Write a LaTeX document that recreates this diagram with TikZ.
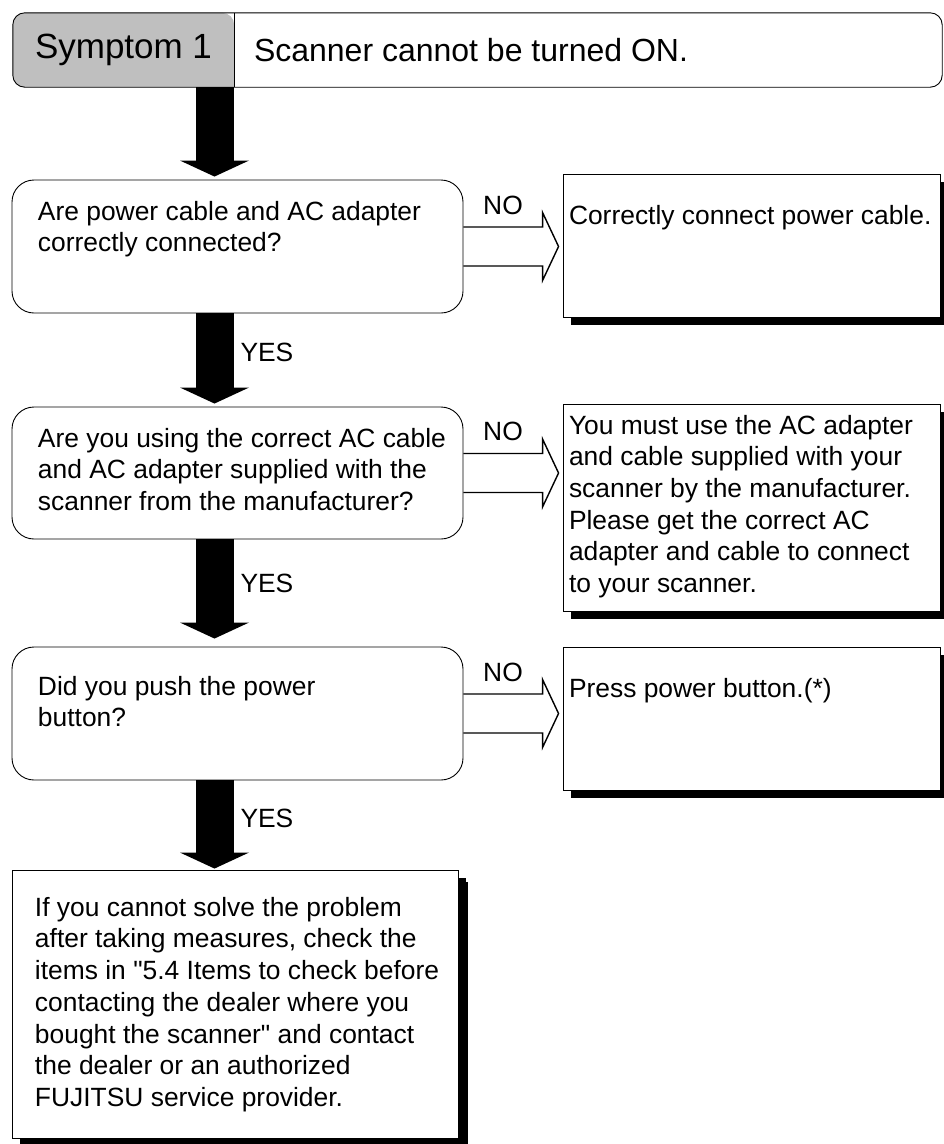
\documentclass[tikz,border=0pt]{standalone}
\usepackage{fontspec}
\setmainfont{Liberation Sans}
\usepackage{tikz}
\usetikzlibrary{arrows.meta, calc, backgrounds}

% width, height, left inset, top skip, text
\newcommand{\cardtext}[5]{\hspace*{#3pt}\parbox[c][#2pt][t]{\dimexpr #1pt-#3pt\relax}{\raggedright\vspace*{#4pt}\strut #5}}

\tikzset{
  body/.style={font=\fontsize{26.4}{31.7}\selectfont},
  query/.style={body, draw, line width=0.9pt, rounded corners=22pt, inner sep=0pt},
  answer/.style={body, draw, line width=0.9pt, fill=white, inner sep=0pt,
    preaction={fill=black, transform canvas={shift={(8pt,-8pt)}}}},
  bigarrow/.style={line width=38pt, -{Triangle[width=69pt, length=16pt, line width=0pt]}},
  openarrow/.style={line width=1.4pt, line join=miter},
  yes/.style={body, inner sep=0pt, outer sep=0pt, anchor=west, xshift=26pt, yshift=6pt},
  nolabel/.style={body, inner sep=0pt, outer sep=0pt, yshift=22pt}
}

\begin{document}
\begin{tikzpicture}[x=1pt, y=-1pt]
\useasboundingbox (0,0) rectangle (944,1144);

% header
\node[inner sep=0pt, minimum width=221pt, minimum height=74pt, font=\fontsize{35}{42}\selectfont] (sym) at (123.5,50) {\raisebox{-3pt}{Symptom 1}};
\node[inner sep=0pt, minimum height=74pt, font=\fontsize{32}{38}\selectfont] (title) at (588,50) {\makebox[708pt][l]{\hspace*{20pt}Scanner cannot be turned ON.}};
\begin{scope}[on background layer]
\fill[black!25, rounded corners=12pt] (sym.south east) -- (sym.south west) -- (sym.north west) -- (sym.north east) [sharp corners] -- cycle;
\end{scope}
\draw[line width=0.9pt, rounded corners=12pt] (sym.north west) rectangle (title.south east);
\draw[line width=0.9pt] (sym.north east) -- (sym.south east);

% questions
\node[query] (q1) at (237.5,246.5) {\cardtext{451}{133}{26}{18}{Are power cable and AC adapter\\correctly connected?}};
\node[query] (q2) at (237.5,473) {\cardtext{451}{132}{26}{18}{Are you using the correct AC cable\\and AC adapter supplied with the\\scanner from the manufacturer?}};
\node[query] (q3) at (237.5,713.5) {\cardtext{451}{133}{26}{26}{Did you push the power\\button?}};

% answers
\node[answer] (r1) at (751.5,245.5) {\cardtext{377}{143}{6}{28}{Correctly connect power cable.}};
\node[answer] (r2) at (751.5,507.5) {\cardtext{377}{207}{6}{8}{You must use the AC adapter\\and cable supplied with your\\scanner by the manufacturer.\\Please get the correct AC\\adapter and cable to connect\\to your scanner.}};
\node[answer] (r3) at (751.5,718.5) {\cardtext{377}{143}{6}{28}{Press power button.(*)}};
\node[answer, preaction={fill=black, transform canvas={shift={(10pt,-12pt)}}}] (fin) at (235,1004) {\cardtext{446}{268}{23}{24}{If you cannot solve the problem\\after taking measures, check the\\items in \textquotedbl 5.4 Items to check before\\contacting the dealer where you\\bought the scanner\textquotedbl{} and contact\\the dealer or an authorized\\FUJITSU service provider.}};

% YES path
\coordinate (spine) at (214.5,0);
\draw[bigarrow] (sym.south -| spine) -- ($(q1.north -| spine)+(0,3pt)$);
\draw[bigarrow] (q1.south -| spine) -- node[yes] (yes1) {YES} ($(q2.north -| spine)+(0,3pt)$);
\draw[bigarrow] (q2.south -| spine) -- node[yes] (yes2) {YES} ($(q3.north -| spine)+(0,8pt)$);
\draw[bigarrow] (q3.south -| spine) -- node[yes] (yes3) {YES} ($(fin.north -| spine)+(0,1pt)$);

% NO branches
\coordinate (tip1) at ($(r1.west |- q1.east)+(-4pt,0)$);
\draw[openarrow] ($(q1.east)+(0,19.5pt)$) -- node[nolabel] (no1) {NO} ($(tip1)+(-16pt,19.5pt)$) -- ($(tip1)+(-16pt,34pt)$) -- (tip1) -- ($(tip1)+(-16pt,-34pt)$) -- ($(tip1)+(-16pt,-19.5pt)$) -- ($(q1.east)+(0,-19.5pt)$);
\coordinate (tip2) at ($(r2.west |- q2.east)+(-4pt,0)$);
\draw[openarrow] ($(q2.east)+(0,19.5pt)$) -- node[nolabel] (no2) {NO} ($(tip2)+(-16pt,19.5pt)$) -- ($(tip2)+(-16pt,34pt)$) -- (tip2) -- ($(tip2)+(-16pt,-34pt)$) -- ($(tip2)+(-16pt,-19.5pt)$) -- ($(q2.east)+(0,-19.5pt)$);
\coordinate (tip3) at ($(r3.west |- q3.east)+(-4pt,0)$);
\draw[openarrow] ($(q3.east)+(0,19.5pt)$) -- node[nolabel] (no3) {NO} ($(tip3)+(-16pt,19.5pt)$) -- ($(tip3)+(-16pt,34pt)$) -- (tip3) -- ($(tip3)+(-16pt,-34pt)$) -- ($(tip3)+(-16pt,-19.5pt)$) -- ($(q3.east)+(0,-19.5pt)$);
\end{tikzpicture}
\end{document}
